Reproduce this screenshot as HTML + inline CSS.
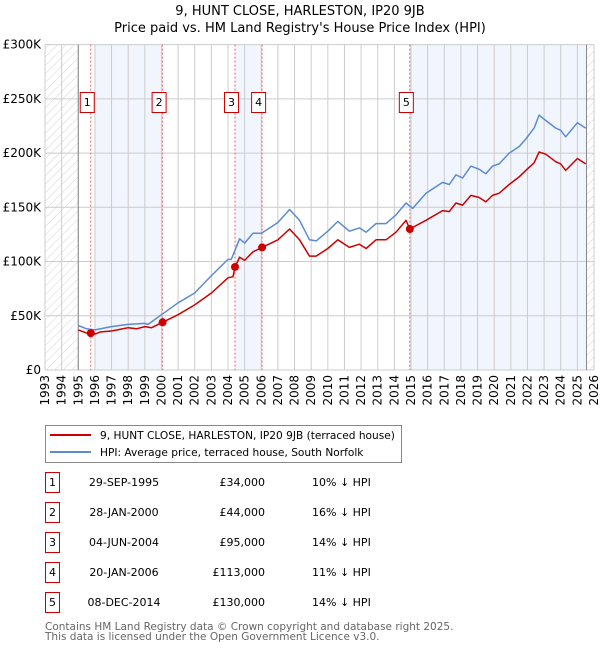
<!DOCTYPE html>
<html><head><meta charset="utf-8"><style>
body{margin:0;background:#fff;font-family:"DejaVu Sans","Liberation Sans",sans-serif;}
svg text{font-family:"DejaVu Sans","Liberation Sans",sans-serif;}
</style></head><body>
<svg id="c" width="600" height="650" xmlns="http://www.w3.org/2000/svg">
<defs><pattern id="hatch" width="6" height="6" patternUnits="userSpaceOnUse" patternTransform="rotate(45)"><line x1="0" y1="0" x2="0" y2="6" stroke="#d4d4d4" stroke-width="1"/></pattern></defs>
<text x="300" y="15" text-anchor="middle" font-size="13">9, HUNT CLOSE, HARLESTON, IP20 9JB</text>
<text x="300" y="32" text-anchor="middle" font-size="13">Price paid vs. HM Land Registry's House Price Index (HPI)</text>
<g id="plot"></g>
<g>
<rect x="45.5" y="425.5" width="356" height="37" fill="#fff" stroke="#888"/>
<line x1="50" y1="435" x2="91" y2="435" stroke="#cc0000" stroke-width="2"/>
<text x="100" y="439" font-size="10.6">9, HUNT CLOSE, HARLESTON, IP20 9JB (terraced house)</text>
<line x1="50" y1="452" x2="91" y2="452" stroke="#5b8bd0" stroke-width="2"/>
<text x="100" y="456" font-size="10.6">HPI: Average price, terraced house, South Norfolk</text>
</g>
<g id="table" font-size="11"></g>
<text x="45" y="630" font-size="10.5" fill="#666">Contains HM Land Registry data © Crown copyright and database right 2025.</text>
<text x="45" y="640" font-size="10.5" fill="#666">This data is licensed under the Open Government Licence v3.0.</text>
</svg>
<script>
const hpiYears=[1995.0,1995.5,1996.0,1997.0,1998.0,1999.0,1999.2,2000.0,2001.0,2002.0,2003.0,2004.0,2004.2,2004.7,2005.0,2005.5,2006.0,2006.3,2007.0,2007.7,2008.3,2008.9,2009.3,2010.0,2010.6,2011.3,2011.9,2012.3,2012.9,2013.5,2014.1,2014.7,2015.1,2015.9,2016.9,2017.3,2017.7,2018.1,2018.6,2019.1,2019.5,2019.9,2020.3,2020.9,2021.5,2021.9,2022.4,2022.7,2023.1,2023.7,2024.0,2024.3,2025.0,2025.5];
const hpiValues=[41,38,37,40,42,43,42,51,62,71,87,102,102,121,117,126,126,129,136,148,138,120,119,128,137,128,131,127,135,135,143,154,149,163,173,171,180,177,188,185,181,188,190,200,206,213,223,235,230,223,221,215,228,223];
const propYears=[1995.0,1995.5,1995.75,1996.0,1996.3,1997.0,1998.0,1998.5,1999.0,1999.4,2000.07,2001.0,2002.0,2003.0,2004.0,2004.3,2004.42,2004.7,2005.0,2005.5,2006.05,2007.0,2007.7,2008.3,2008.9,2009.3,2010.0,2010.6,2011.3,2011.9,2012.3,2012.9,2013.5,2014.1,2014.7,2014.93,2015.9,2016.9,2017.3,2017.7,2018.1,2018.6,2019.1,2019.5,2019.9,2020.3,2020.9,2021.5,2021.9,2022.4,2022.7,2023.1,2023.7,2024.0,2024.3,2025.0,2025.5];
const propValues=[37,34,34,33,35,36,39,38,40,39,44,51,60,71,85,86,95,104,101,109,113,120,130,120,105,105,112,120,113,116,112,120,120,127,138,130,138,147,146,154,152,161,159,155,161,163,171,178,184,191,201,199,192,190,184,195,190];
const saleYears=[1995.75,2000.07,2004.42,2006.05,2014.93];
const saleValues=[34,44,95,113,130];
const saleDates=["29-SEP-1995","28-JAN-2000","04-JUN-2004","20-JAN-2006","08-DEC-2014"];
const salePrices=["£34,000","£44,000","£95,000","£113,000","£130,000"];
const saleDiffs=["10% ↓ HPI","16% ↓ HPI","14% ↓ HPI","11% ↓ HPI","14% ↓ HPI"];
const yTicks=[0,50,100,150,200,250,300];
const yTickLabels=["£0","£50K","£100K","£150K","£200K","£250K","£300K"];
const xTicks=[1993,1994,1995,1996,1997,1998,1999,2000,2001,2002,2003,2004,2005,2006,2007,2008,2009,2010,2011,2012,2013,2014,2015,2016,2017,2018,2019,2020,2021,2022,2023,2024,2025,2026];

const NS="http://www.w3.org/2000/svg";
const L=45,R=594,T=44.6,B=370;
const X=y=>L+(y-1993)*(R-L)/33;
const Y=v=>B-v*(B-T)/300;
const plot=document.getElementById('plot');
function mk(tag,attrs,parent){const e=document.createElementNS(NS,tag);for(const k in attrs)e.setAttribute(k,attrs[k]);(parent||plot).appendChild(e);return e;}

[[1996.0,saleYears[1]],[saleYears[2],saleYears[3]],[saleYears[4],2025.55]].forEach(b=>{
 const r=mk('rect',{x:X(b[0]),y:T,width:X(b[1])-X(b[0]),height:B-T,fill:'#eef3fc',opacity:0.8});
 
 
});
const h1=mk('rect',{x:L,y:T,width:X(1995)-L,height:B-T,fill:'url(#hatch)'});


const h2=mk('rect',{x:X(2025.55),y:T,width:R-X(2025.55),height:B-T,fill:'url(#hatch)'});


yTicks.forEach((v,i)=>{
 const g=mk('line',{x1:L,x2:R,y1:Y(v),y2:Y(v),stroke:'#ccc','stroke-width':1});
 
 
 const t=mk('text',{x:L-4,y:Y(v)+4,'text-anchor':'end','font-size':12});
 t.textContent=yTickLabels[i];
 
 
});
xTicks.forEach(yr=>{
 const g=mk('line',{x1:X(yr),x2:X(yr),y1:T,y2:B,stroke:'#ccc','stroke-width':1});
 
 
 const t=mk('text',{x:0,y:0,'text-anchor':'end','font-size':12,transform:`translate(${X(yr)+4},${B+5}) rotate(-90)`});
 t.textContent=yr;
 
 
});
const ax1=mk('line',{x1:X(1995),x2:X(1995),y1:T,y2:B,stroke:'#888'});


const ax2=mk('line',{x1:X(2025.55),x2:X(2025.55),y1:T,y2:B,stroke:'#888'});


saleYears.forEach((yr,i)=>{
 const l=mk('line',{x1:X(yr),x2:X(yr),y1:T,y2:B,stroke:'#e66','stroke-width':1,'stroke-dasharray':'2,2'});
 
 
 const bx=mk('rect',{x:X(yr)-10.5,y:92.5,width:14,height:20,fill:'#fff',stroke:'#cc0000'});
 
 
 const t=mk('text',{x:X(yr)-3.5,y:106,'text-anchor':'middle','font-size':11});
 t.textContent=i+1;
 
 
});
function line(xs,vs,col,name){
 const p=mk('polyline',{points:xs.map((x,i)=>X(x).toFixed(1)+','+Y(vs[i]).toFixed(1)).join(' '),fill:'none',stroke:col,'stroke-width':1.5,'stroke-linejoin':'round'});
 
 
}
line(hpiYears,hpiValues,'#5b8bd0','hpi-line');
line(propYears,propValues,'#cc0000','property-price-line');
saleYears.forEach((yr,i)=>{
 const c=mk('circle',{cx:X(yr),cy:Y(saleValues[i]),r:4,fill:'#cc0000'});
 
 
});
const tb=document.getElementById('table');
saleDates.forEach((d,i)=>{
 const cy=483+i*30;
 const b=mk('rect',{x:45.5,y:cy-10.5,width:14,height:20,fill:'#fff',stroke:'#cc0000'},tb);
 
 
 const n=mk('text',{x:52.5,y:cy+3,'text-anchor':'middle'},tb);n.textContent=i+1;
 
 
 const dt=mk('text',{x:124,y:cy+3,'text-anchor':'middle'},tb);dt.textContent=d;
 
 
 const pr=mk('text',{x:265,y:cy+3,'text-anchor':'end'},tb);pr.textContent=salePrices[i];
 
 
 const df=mk('text',{x:312,y:cy+3},tb);df.textContent=saleDiffs[i];
 
 
});
</script>
</body></html>
